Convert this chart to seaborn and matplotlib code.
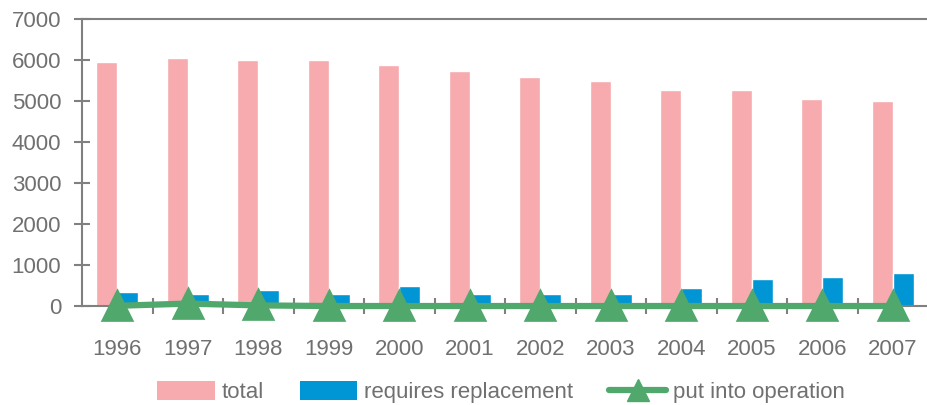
import pandas as pd
import matplotlib.pyplot as plt
import seaborn as sns
from matplotlib.patches import Patch
from matplotlib.lines import Line2D

# data
years = ["1996", "1997", "1998", "1999", "2000", "2001",
         "2002", "2003", "2004", "2005", "2006", "2007"]
total = [5960, 6050, 6000, 6000, 5880, 5730, 5590, 5500, 5270, 5270, 5040, 4990]
requires_replacement = [340, 300, 390, 300, 480, 300, 300, 300, 430, 660, 710, 800]
put_into_operation = [5, 60, 15, 0, 0, 0, 0, 0, 0, 0, 0, 0]

pink = "#F7ABAE"
blue = "#0096D6"
green = "#50A86C"
grey = "#707070"
fs = 16

bars = pd.DataFrame({
    "year": years * 2,
    "value": total + requires_replacement,
    "series": ["total"] * len(years) + ["requires replacement"] * len(years),
})
line = pd.DataFrame({"year": years, "value": put_into_operation})

sns.set_theme(style="white")
plt.rcParams["font.family"] = ["Liberation Sans Narrow", "Liberation Sans", "DejaVu Sans"]

fig = plt.figure(figsize=(9.28, 4.05), dpi=100)
ax = fig.add_axes([0.0884, 0.2444, 0.9116, 0.7086])

sns.barplot(data=bars, x="year", y="value", hue="series",
            palette=[pink, blue], width=0.6, saturation=1,
            order=years, ax=ax, legend=False)
sns.pointplot(data=line, x="year", y="value", order=years, color=green,
              markers="^", markersize=19, linewidth=4.5, errorbar=None, ax=ax)
for ln in ax.lines:
    ln.set_clip_on(False)
    ln.set_zorder(5)

ax.set_xlim(-0.5, len(years) - 0.5)
ax.set_ylim(0, 7000)
ax.set_yticks(range(0, 7001, 1000))
ax.set_xlabel("")
ax.set_ylabel("")

# spines
for side in ["left", "bottom", "top"]:
    ax.spines[side].set_color("#808080")
    ax.spines[side].set_linewidth(1.5)
ax.spines["right"].set_visible(False)

# ticks: y ticks cross the axis, x ticks sit on category boundaries
ax.tick_params(axis="y", direction="inout", length=12, width=1.5,
               color="#808080", labelsize=fs, labelcolor=grey, pad=9, left=True)
ax.tick_params(axis="x", which="major", length=0, labelsize=fs,
               labelcolor=grey, pad=24)
ax.set_xticks([i + 0.5 for i in range(len(years) - 1)], minor=True)
ax.tick_params(axis="x", which="minor", direction="inout", length=12,
               width=1.5, color="#808080", bottom=True)

handles = [
    Patch(facecolor=pink, edgecolor="none", label="total"),
    Patch(facecolor=blue, edgecolor="none", label="requires replacement"),
    Line2D([0], [0], color=green, linewidth=4.5, marker="^", markersize=16,
           label="put into operation"),
]
leg = fig.legend(handles=handles, loc="lower center", bbox_to_anchor=(0.54, -0.045),
                 ncol=3, frameon=False, fontsize=fs, handlelength=2.6,
                 handleheight=0.9, handletextpad=0.3, columnspacing=1.6)
for t in leg.get_texts():
    t.set_color(grey)

fig.savefig("out.png", dpi=100)
plt.close(fig)
